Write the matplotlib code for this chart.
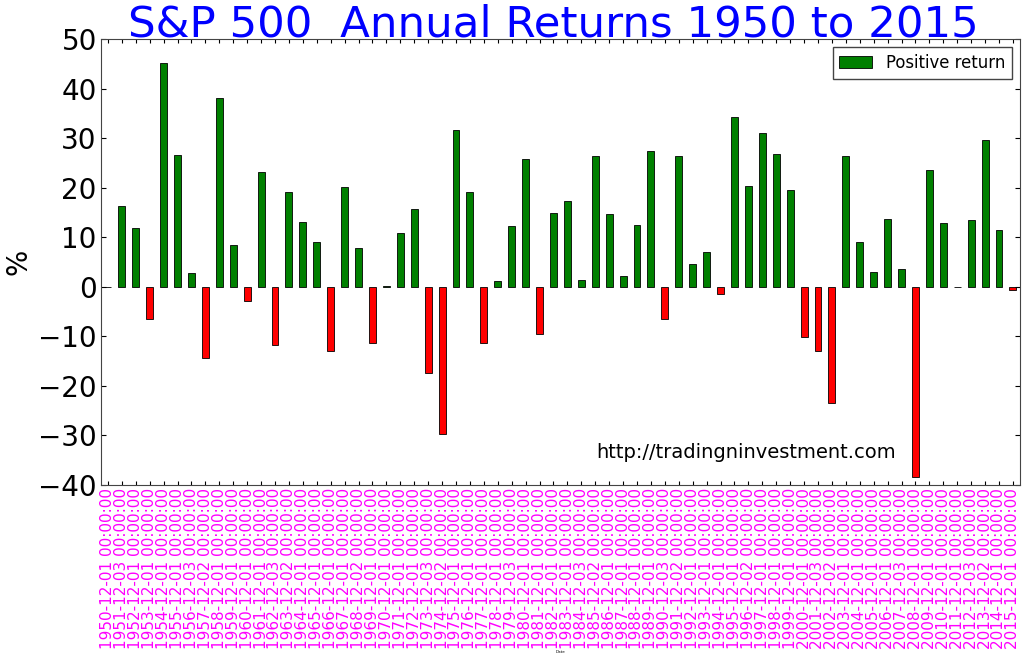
import matplotlib
matplotlib.use("Agg")
import matplotlib.pyplot as plt
import matplotlib.patches as mpatches

# annual returns in percent
years = list(range(1950, 2016))
days = ["01", "03", "01", "01", "01", "01", "03", "02", "01", "01",
        "01", "01", "03", "02", "01", "01", "01", "01", "02", "01",
        "01", "01", "01", "03", "02", "01", "01", "01", "01", "03",
        "01", "01", "01", "01", "03", "02", "01", "01", "01", "01",
        "03", "02", "01", "01", "01", "01", "02", "01", "01", "01",
        "01", "03", "02", "01", "01", "01", "01", "03", "01", "01",
        "01", "01", "03", "02", "01", "01"]
returns = [0.0, 16.3, 11.8, -6.5, 45.2, 26.5, 2.7, -14.3, 38.1, 8.5,
           -2.9, 23.2, -11.8, 19.1, 13.1, 9.1, -13.0, 20.2, 7.8, -11.3,
           0.1, 10.9, 15.7, -17.5, -29.8, 31.6, 19.2, -11.4, 1.1, 12.3,
           25.8, -9.6, 14.9, 17.3, 1.4, 26.3, 14.6, 2.1, 12.5, 27.3,
           -6.5, 26.3, 4.6, 7.1, -1.4, 34.2, 20.3, 31.0, 26.7, 19.6,
           -10.1, -13.0, -23.4, 26.4, 9.0, 3.0, 13.6, 3.6, -38.4, 23.5,
           12.9, -0.05, 13.4, 29.6, 11.5, -0.7]
tick_labels = ["%d-12-%s 00:00:00" % (y, d) for y, d in zip(years, days)]

colors = ["green" if r > 0 else "red" for r in returns]

fig = plt.figure(figsize=(10.25, 6.58), dpi=100)
ax = fig.add_axes([0.0985, 0.263, 0.8965, 0.6777])

x = list(range(len(returns)))
ax.bar(x, returns, width=0.5, color=colors, edgecolor="black", linewidth=0.6)

ax.set_xlim(-0.5, len(returns) - 0.5)
ax.set_ylim(-40, 50)
ax.set_yticks(range(-40, 51, 10))
ax.set_xticks(x)
ax.set_xticklabels(tick_labels, rotation=90, color="magenta", fontsize=11)
ax.tick_params(axis="y", labelsize=20, pad=3, direction="in", right=True)
ax.tick_params(axis="x", pad=2, direction="in", top=True, length=3)

for s in ax.spines.values():
    s.set_linewidth(0.8)
    s.set_color("#444444")

ax.set_ylabel("%", fontsize=20, labelpad=4)
ax.set_xlabel("Date", fontsize=3, labelpad=1)
title = ax.set_title("S&P 500  Annual Returns 1950 to 2015", fontsize=31.3,
                     color="blue", pad=2)
title.set_x(0.492)

ax.text(0.539, 0.072, "http://tradingninvestment.com", fontsize=14,
        transform=ax.transAxes, ha="left", va="center")

handle = mpatches.Patch(facecolor="green", edgecolor="black", linewidth=0.6)
ax.legend([handle], ["Positive return"], loc="upper right", fontsize=11.9,
          fancybox=False, framealpha=1, edgecolor="#444444",
          borderaxespad=0.5)

fig.savefig("out.png", dpi=100)
